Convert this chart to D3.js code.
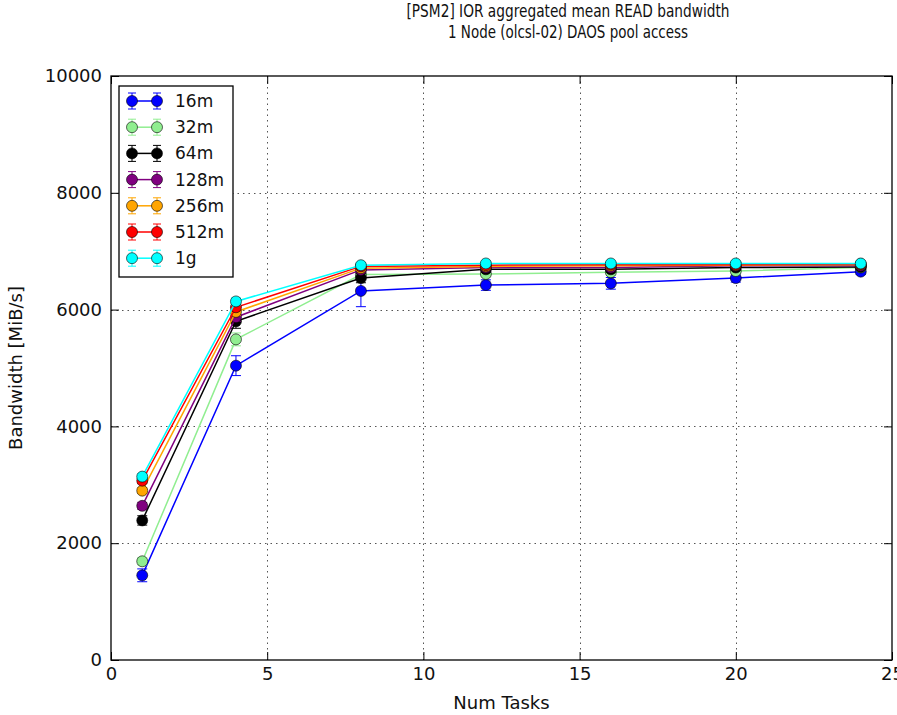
<!DOCTYPE html>
<html>
<head>
<meta charset="utf-8">
<script src="https://cdn.jsdelivr.net/npm/d3@7.9.0/dist/d3.min.js"></script>
<style>
  html, body { margin: 0; padding: 0; background: #fff; }
  svg { display: block; font-family: "DejaVu Sans", sans-serif; }
</style>
</head>
<body>
<div id="chart"></div>
<script>
// -------- data --------
const numTasks = [1, 4, 8, 12, 16, 20, 24];
const seriesNames = ['16m', '32m', '64m', '128m', '256m', '512m', '1g'];
const seriesColors = ['#0000ff', '#90ee90', '#000000', '#800080', '#ffa500', '#ff0000', '#00ffff'];

const bw16m  = [1450, 5040, 6320, 6420, 6450, 6540, 6650];
const bw32m  = [1690, 5490, 6600, 6610, 6640, 6660, 6720];
const bw64m  = [2390, 5800, 6540, 6690, 6690, 6720, 6730];
const bw128m = [2640, 5870, 6680, 6720, 6720, 6750, 6750];
const bw256m = [2900, 5960, 6710, 6740, 6750, 6760, 6770];
const bw512m = [3070, 6040, 6740, 6760, 6770, 6770, 6780];
const bw1g   = [3140, 6140, 6760, 6790, 6790, 6790, 6790];

const err16m  = [110, 170, 270, 90, 100, 70, 50];
const err32m  = [60, 110, 70, 50, 50, 50, 40];
const err64m  = [80, 120, 80, 50, 50, 40, 40];
const err128m = [60, 70, 40, 30, 30, 30, 30];
const err256m = [50, 60, 40, 30, 30, 30, 30];
const err512m = [50, 60, 40, 30, 30, 30, 30];
const err1g   = [50, 60, 40, 30, 30, 30, 30];

const xTicks = [0, 5, 10, 15, 20, 25];
const yTicks = [0, 2000, 4000, 6000, 8000, 10000];

const titleLines = ['[PSM2] IOR aggregated mean READ bandwidth', '1 Node (olcsl-02) DAOS pool access'];
const xLabel = 'Num Tasks';
const yLabel = 'Bandwidth [MiB/s]';

const allValues = [bw16m, bw32m, bw64m, bw128m, bw256m, bw512m, bw1g];
const allErrors = [err16m, err32m, err64m, err128m, err256m, err512m, err1g];

const series = seriesNames.map((name, i) => ({
  name,
  color: seriesColors[i],
  points: numTasks.map((x, j) => ({ x, y: allValues[i][j], e: allErrors[i][j] }))
}));

// -------- layout --------
const width = 897;
const height = 715;
const plot = { left: 111, right: 892, top: 76, bottom: 660 };

const svg = d3.select('#chart').append('svg')
  .attr('width', width)
  .attr('height', height);

const x = d3.scaleLinear().domain([0, 25]).range([plot.left, plot.right]);
const y = d3.scaleLinear().domain([0, 10000]).range([plot.bottom, plot.top]);

// gridlines
const grid = svg.append('g').attr('class', 'grid')
  .attr('stroke', '#555').attr('stroke-width', 1).attr('stroke-dasharray', '1.5,4');
grid.selectAll('line.gx').data(xTicks.slice(1, -1)).join('line')
  .attr('x1', d => Math.round(x(d)) + 0.5).attr('x2', d => Math.round(x(d)) + 0.5)
  .attr('y1', plot.top).attr('y2', plot.bottom);
grid.selectAll('line.gy').data(yTicks.slice(1, -1)).join('line')
  .attr('y1', d => Math.round(y(d)) + 0.5).attr('y2', d => Math.round(y(d)) + 0.5)
  .attr('x1', plot.left).attr('x2', plot.right);

// axes (ticks pointing inward on all four sides, like classic matplotlib)
const tickLen = 8;
const fontSize = 18;

svg.append('g')
  .attr('transform', `translate(0,${plot.bottom})`)
  .call(d3.axisBottom(x).tickValues(xTicks).tickSize(-tickLen).tickPadding(7))
  .call(g => g.select('.domain').remove());
svg.append('g')
  .attr('transform', `translate(0,${plot.top})`)
  .call(d3.axisTop(x).tickValues(xTicks).tickSize(-tickLen).tickFormat(''))
  .call(g => g.select('.domain').remove());
svg.append('g')
  .attr('transform', `translate(${plot.left},0)`)
  .call(d3.axisLeft(y).tickValues(yTicks).tickSize(-tickLen).tickPadding(9).tickFormat(d3.format('d')))
  .call(g => g.select('.domain').remove());
svg.append('g')
  .attr('transform', `translate(${plot.right},0)`)
  .call(d3.axisRight(y).tickValues(yTicks).tickSize(-tickLen).tickFormat(''))
  .call(g => g.select('.domain').remove());

svg.selectAll('.tick line').attr('stroke', '#000').attr('stroke-width', 1);
svg.selectAll('.tick text')
  .attr('font-family', '"DejaVu Sans", sans-serif')
  .attr('font-size', fontSize)
  .attr('fill', '#111');

// series: lines, error bars, markers
const line = d3.line().x(d => x(d.x)).y(d => y(d.y));
const capHalf = 5;

series.forEach(s => {
  const g = svg.append('g').attr('class', 'series');
  g.append('path')
    .datum(s.points)
    .attr('d', line)
    .attr('fill', 'none')
    .attr('stroke', s.color)
    .attr('stroke-width', 1.5);

  const eb = g.append('g').attr('stroke', s.color).attr('stroke-width', 1);
  eb.selectAll('line.v').data(s.points).join('line')
    .attr('x1', d => x(d.x)).attr('x2', d => x(d.x))
    .attr('y1', d => y(d.y - d.e)).attr('y2', d => y(d.y + d.e));
  eb.selectAll('line.lo').data(s.points).join('line')
    .attr('x1', d => x(d.x) - capHalf).attr('x2', d => x(d.x) + capHalf)
    .attr('y1', d => y(d.y - d.e)).attr('y2', d => y(d.y - d.e));
  eb.selectAll('line.hi').data(s.points).join('line')
    .attr('x1', d => x(d.x) - capHalf).attr('x2', d => x(d.x) + capHalf)
    .attr('y1', d => y(d.y + d.e)).attr('y2', d => y(d.y + d.e));

  g.selectAll('circle').data(s.points).join('circle')
    .attr('cx', d => x(d.x))
    .attr('cy', d => y(d.y))
    .attr('r', 5.5)
    .attr('fill', s.color)
    .attr('stroke', '#000')
    .attr('stroke-width', 0.6);
});

// plot frame
svg.append('rect')
  .attr('x', plot.left).attr('y', plot.top)
  .attr('width', plot.right - plot.left).attr('height', plot.bottom - plot.top)
  .attr('fill', 'none').attr('stroke', '#000').attr('stroke-width', 1.3);

// legend
const legend = svg.append('g').attr('transform', 'translate(119,86)');
legend.append('rect')
  .attr('width', 114).attr('height', 191)
  .attr('fill', '#fff').attr('stroke', '#000').attr('stroke-width', 1.3);
series.forEach((s, i) => {
  const ly = 15 + i * 26.2;
  const item = legend.append('g').attr('transform', `translate(0,${ly})`);
  item.append('line').attr('x1', 13).attr('x2', 38).attr('stroke', s.color).attr('stroke-width', 1.5);
  [13, 38].forEach(cx => {
    item.append('line').attr('x1', cx).attr('x2', cx).attr('y1', -8).attr('y2', 8)
      .attr('stroke', s.color).attr('stroke-width', 1);
    item.append('line').attr('x1', cx - 4).attr('x2', cx + 4).attr('y1', -8).attr('y2', -8)
      .attr('stroke', s.color).attr('stroke-width', 1);
    item.append('line').attr('x1', cx - 4).attr('x2', cx + 4).attr('y1', 8).attr('y2', 8)
      .attr('stroke', s.color).attr('stroke-width', 1);
    item.append('circle').attr('cx', cx).attr('r', 5.5)
      .attr('fill', s.color).attr('stroke', '#000').attr('stroke-width', 0.6);
  });
  item.append('text')
    .attr('x', 56).attr('y', 0).attr('dy', '0.35em')
    .attr('font-size', 17).attr('fill', '#111')
    .text(s.name);
});

// title (sits right of the axes centre in the reference)
const titleX = 568;
svg.append('text')
  .attr('x', titleX).attr('y', 17)
  .attr('text-anchor', 'middle').attr('font-size', 18).attr('fill', '#111')
  .attr('textLength', 323).attr('lengthAdjust', 'spacingAndGlyphs')
  .text(titleLines[0]);
svg.append('text')
  .attr('x', titleX).attr('y', 38)
  .attr('text-anchor', 'middle').attr('font-size', 18).attr('fill', '#111')
  .attr('textLength', 240).attr('lengthAdjust', 'spacingAndGlyphs')
  .text(titleLines[1]);

// axis labels
const cx = (plot.left + plot.right) / 2;
svg.append('text')
  .attr('x', cx).attr('y', 709)
  .attr('text-anchor', 'middle').attr('font-size', fontSize).attr('fill', '#111')
  .text(xLabel);
svg.append('text')
  .attr('transform', `translate(22,${(plot.top + plot.bottom) / 2}) rotate(-90)`)
  .attr('text-anchor', 'middle').attr('font-size', fontSize).attr('fill', '#111')
  .text(yLabel);
</script>
</body>
</html>
